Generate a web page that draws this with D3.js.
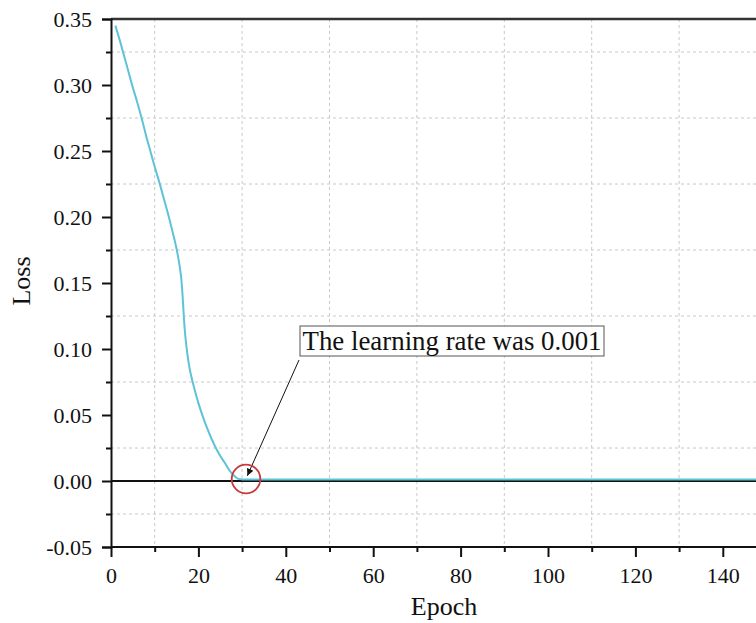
<!DOCTYPE html>
<html>
<head>
<meta charset="utf-8">
<script src="https://cdn.jsdelivr.net/npm/d3@7"></script>
<style>
  body { margin: 0; background: #fff; }
  svg { display: block; font-family: "Liberation Serif", "Times New Roman", serif; }
</style>
</head>
<body>
<script>
// loss per epoch
const epochs = [1, 2, 3, 4, 5, 6, 7, 8, 9, 10, 11, 12, 13, 14, 15, 16, 17, 18, 19, 20,
                21, 22, 23, 24, 25, 26, 27, 28, 29, 30, 32, 35, 40, 50, 60, 80, 100, 120, 150];
const loss = [0.345, 0.334, 0.322, 0.310, 0.298, 0.287, 0.275, 0.262, 0.250, 0.238,
              0.227, 0.215, 0.203, 0.190, 0.176, 0.156, 0.110, 0.085, 0.071, 0.059,
              0.049, 0.040, 0.032, 0.025, 0.019, 0.014, 0.0085, 0.0045, 0.0018, 0.0012,
              0.0012, 0.0012, 0.0012, 0.0012, 0.0011, 0.0011, 0.0011, 0.0011, 0.0011];

const xTicks = [0, 20, 40, 60, 80, 100, 120, 140];
const xMinor = [10, 30, 50, 70, 90, 110, 130, 150];
const yTicks = [-0.05, 0, 0.05, 0.10, 0.15, 0.20, 0.25, 0.30, 0.35];
const yMinor = [-0.025, 0.025, 0.075, 0.125, 0.175, 0.225, 0.275, 0.325];

const note = "The learning rate was 0.001";

const W = 756, H = 623;
const svg = d3.select("body").append("svg")
  .attr("width", W).attr("height", H);

const x = d3.scaleLinear().domain([0, 150]).range([111, 766.5]);
const y = d3.scaleLinear().domain([-0.05, 0.35]).range([547, 19]);

// grid (dashed, at the minor positions)
svg.append("g").selectAll("line").data(xMinor).enter().append("line")
  .attr("x1", d => x(d)).attr("x2", d => x(d))
  .attr("y1", y(0.35)).attr("y2", y(-0.05))
  .attr("stroke", "#c8c8c8").attr("stroke-width", 1).attr("stroke-dasharray", "3,3");
svg.append("g").selectAll("line").data(yMinor).enter().append("line")
  .attr("x1", x(0)).attr("x2", W)
  .attr("y1", d => y(d)).attr("y2", d => y(d))
  .attr("stroke", "#c8c8c8").attr("stroke-width", 1).attr("stroke-dasharray", "3,3");

// top frame line
svg.append("line")
  .attr("x1", x(0)).attr("x2", W).attr("y1", y(0.35)).attr("y2", y(0.35))
  .attr("stroke", "#333").attr("stroke-width", 2.5);

// zero line
svg.append("line")
  .attr("x1", x(0)).attr("x2", W).attr("y1", y(0)).attr("y2", y(0))
  .attr("stroke", "#111").attr("stroke-width", 1.8);

// axes
const yFmt = d => d3.format(".2f")(d).replace("\u2212", "-");
const xAxis = svg.append("g")
  .attr("transform", "translate(0," + y(-0.05) + ")")
  .call(d3.axisBottom(x).tickValues(xTicks).tickSize(10).tickPadding(10).tickFormat(d3.format("d")));
const xAxisMinor = svg.append("g")
  .attr("transform", "translate(0," + y(-0.05) + ")")
  .call(d3.axisBottom(x).tickValues(xMinor).tickSize(5).tickFormat(""));
const yAxis = svg.append("g")
  .attr("transform", "translate(" + x(0) + ",0)")
  .call(d3.axisLeft(y).tickValues(yTicks).tickSize(9).tickPadding(10).tickFormat(yFmt));
const yAxisMinor = svg.append("g")
  .attr("transform", "translate(" + x(0) + ",0)")
  .call(d3.axisLeft(y).tickValues(yMinor).tickSize(5).tickFormat(""));

[xAxis, xAxisMinor, yAxis, yAxisMinor].forEach(g => {
  g.attr("font-family", "Liberation Serif").attr("font-size", 22);
  g.select(".domain").attr("stroke", "#111").attr("stroke-width", 2);
  g.selectAll(".tick line").attr("stroke", "#111").attr("stroke-width", 2);
  g.selectAll("text").attr("fill", "#111");
});
xAxis.select(".domain").attr("d", "M" + x(0) + ",0H" + W);
xAxisMinor.select(".domain").remove();
yAxisMinor.select(".domain").remove();

// axis titles
svg.append("text")
  .attr("x", 444).attr("y", 615)
  .attr("text-anchor", "middle")
  .attr("font-size", 26).attr("fill", "#111")
  .text("Epoch");
svg.append("text")
  .attr("transform", "translate(30,281) rotate(-90)")
  .attr("text-anchor", "middle")
  .attr("font-size", 26).attr("fill", "#111")
  .text("Loss");

// loss curve
const pts = epochs.map((e, i) => [e, loss[i]]);
svg.append("path")
  .datum(pts)
  .attr("fill", "none")
  .attr("stroke", "#5ec3d7")
  .attr("stroke-width", 2)
  .attr("d", d3.line().x(d => x(d[0])).y(d => y(d[1])).curve(d3.curveCatmullRom.alpha(0.5)));

// annotation
svg.append("defs").append("marker")
  .attr("id", "head")
  .attr("viewBox", "0 0 10 10")
  .attr("refX", 10).attr("refY", 5)
  .attr("markerWidth", 10).attr("markerHeight", 7)
  .attr("markerUnits", "userSpaceOnUse")
  .attr("orient", "auto")
  .append("path").attr("d", "M0,0L10,5L0,10Z").attr("fill", "#111");

svg.append("line")
  .attr("x1", 299).attr("y1", 360)
  .attr("x2", x(31.2)).attr("y2", y(0.004))
  .attr("stroke", "#111").attr("stroke-width", 1)
  .attr("marker-end", "url(#head)");

svg.append("circle")
  .attr("cx", x(30.9)).attr("cy", y(0.0015)).attr("r", 14.3)
  .attr("fill", "none").attr("stroke", "#c83a3a").attr("stroke-width", 1.8);

svg.append("rect")
  .attr("x", 300).attr("y", 326).attr("width", 304).attr("height", 30)
  .attr("fill", "#fff").attr("stroke", "#555").attr("stroke-width", 1);
svg.append("text")
  .attr("x", 302.5).attr("y", 350)
  .attr("font-size", 27).attr("fill", "#111")
  .attr("textLength", 299).attr("lengthAdjust", "spacingAndGlyphs")
  .text(note);
</script>
</body>
</html>
